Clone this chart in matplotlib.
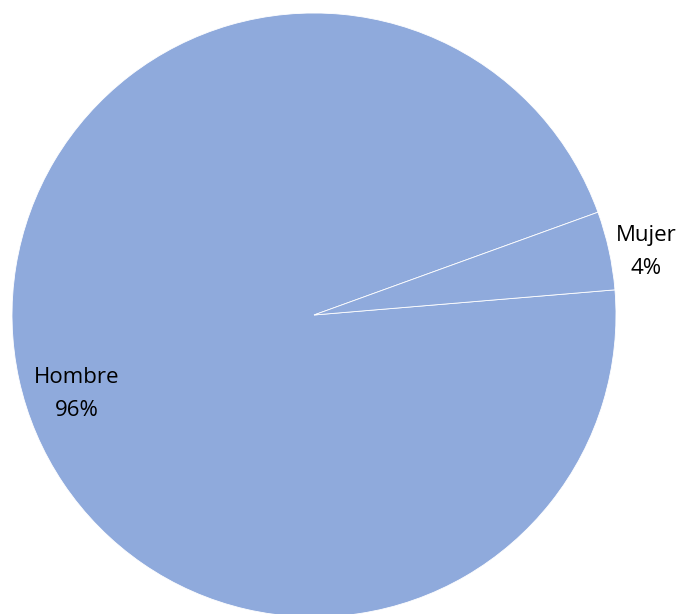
import matplotlib
matplotlib.use("Agg")
import matplotlib.pyplot as plt

categories = ["Hombre", "Mujer"]
values = [95.8, 4.2]
pie_color = "#8FAADC"

W, H = 682, 614
cx, cy, r = 314, 315, 302

fig = plt.figure(figsize=(W / 100, H / 100), dpi=100)
ax = fig.add_axes([(cx - r) / W, (H - cy - r) / H, 2 * r / W, 2 * r / H])

# Mujer slice sits between ~5 and ~20 degrees
start = 19.9
ax.pie(values, colors=[pie_color] * len(values), startangle=start,
       counterclock=True, radius=1,
       wedgeprops=dict(edgecolor="white", linewidth=0.6))
ax.set_xlim(-1, 1)
ax.set_ylim(-1, 1)
ax.set_aspect("equal")
ax.axis("off")

label_pos = {"Hombre": (-0.785, -0.26), "Mujer": (1.099, 0.208)}
total = sum(values)
for cat, v in zip(categories, values):
    x, y = label_pos[cat]
    ax.text(x, y, f"{cat}\n{v / total * 100:.0f}%", ha="center", va="center",
            fontsize=16, family="Open Sans", linespacing=1.75, color="black",
            clip_on=False)

fig.savefig("out.png", dpi=100)
